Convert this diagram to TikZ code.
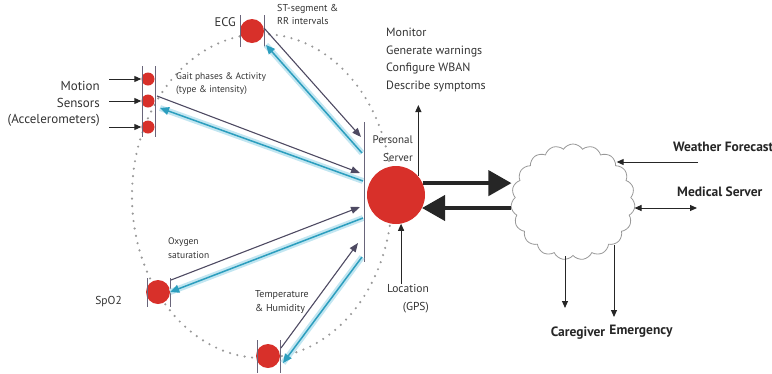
\documentclass[tikz,border=0pt]{standalone}
\usepackage{fontspec}
\setmainfont{PT Sans}
\usepackage{xcolor}
\usetikzlibrary{shapes.symbols,arrows.meta,positioning}

\definecolor{sensorred}{HTML}{D8302A}
\definecolor{uplink}{HTML}{4E4A62}
\definecolor{downlink}{HTML}{2C9EBE}
\definecolor{glow}{HTML}{C2E6F1}
\definecolor{ink}{HTML}{262626}
\definecolor{txt}{HTML}{333333}

\begin{document}
\begin{tikzpicture}[
    x=1pt, y=-1pt,
    sensor/.style={circle, fill=sensorred, minimum size=24pt, inner sep=0pt},
    accdot/.style={circle, fill=sensorred, minimum size=13pt, inner sep=0pt},
    server/.style={circle, fill=sensorred, minimum size=58pt, inner sep=0pt},
    bar/.style={draw=uplink!85, line width=1pt},
    ring/.style={draw=gray!80, line width=2.4pt, line cap=round, dash pattern=on 0pt off 7.5pt},
    up/.style={draw=uplink, line width=1.1pt, -{Triangle[length=9pt,width=7pt]}},
    down/.style={draw=downlink, line width=1.5pt, -{Triangle[length=9pt,width=8pt]},
        preaction={draw=glow, line width=6pt, -}},
    feed/.style={draw=ink, line width=1pt, -{Triangle[length=7pt,width=6pt]}},
    link/.style={draw=ink, line width=4pt, -{Triangle[length=23pt,width=25pt]}},
    lbl/.style={text=txt, font=\fontsize{12}{17.5}\selectfont, inner sep=0pt},
    small/.style={text=txt, font=\fontsize{9.5}{14}\selectfont, inner sep=0pt, align=left},
    bold/.style={text=ink, font=\fontsize{13.5}{16}\selectfont\bfseries, inner sep=0pt}
]
\useasboundingbox (0,0) rectangle (772,373);

% body area
\draw[ring] (262,196) ellipse [x radius=130, y radius=162];

% sensors
\node[sensor] (ecg) at (252,31) {};
\node[accdot] (acc1) at (148,79) {};
\node[accdot] (acc2) at (148,101) {};
\node[accdot] (acc3) at (148,127) {};
\node[sensor] (spo) at (158,292) {};
\node[sensor] (temp) at (268,356) {};
\node[server] (ps) at (396,195) {};
\node[cloud, cloud puffs=19, cloud puff arc=115, cloud ignores aspect,
      minimum width=124pt, minimum height=116pt, inner sep=0pt,
      draw=gray!80, line width=0.8pt, fill=white] (net) at (573,202) {};

% bars around the sensors
\draw[bar] (240,15) -- (240,47) (264,15) -- (264,47);
\draw[bar] (142,66) -- (142,137) (155,66) -- (155,137);
\draw[bar] (147,278) -- (147,307) (170,278) -- (170,307);
\draw[bar] (257,340) -- (257,373) (280,340) -- (280,373);
\draw[bar] (364,122) -- (364,262);

% ends on the server bar
\coordinate (ecgin) at (361,137);
\coordinate (ecgout) at (362,153);
\coordinate (accin) at (360,173);
\coordinate (accout) at (363,181);
\coordinate (spoin) at (360,207);
\coordinate (spoout) at (363,218);
\coordinate (tempin) at (358,243);
\coordinate (tempout) at (362,257);

\draw[down] (ecgout) -- ([shift={(14,14)}]ecg.center);
\draw[down] (accout) -- ([xshift=12pt, yshift=-7pt]acc2.center);
\draw[down] (spoout) -- (spo.east);
\draw[down] (tempout) -- ([shift={(15,7)}]temp.center);

\draw[up] ([shift={(12,-3)}]ecg.center) -- (ecgin);
\draw[up] ([xshift=9pt, yshift=5pt]acc2.center) -- (accin);
\draw[up] ([shift={(13,-12)}]spo.center) -- (spoin);
\draw[up] ([shift={(13,-8)}]temp.center) -- (tempin);

% motion inputs
\draw[feed] (acc1.west) ++(-32,0) -- (acc1.west);
\draw[feed] (acc2.west) ++(-32,0) -- (acc2.west);
\draw[feed] (acc3.west) ++(-32,0) -- (acc3.west);

% labels
\node[lbl, anchor=east, font=\fontsize{12.5}{15}\selectfont] (ecglbl) at (236,22) {ECG};
\node[small, anchor=north west, font=\fontsize{10}{13}\selectfont] (stlbl) at (277,4) {ST-segment \&\\RR intervals};
\node[lbl, align=right, anchor=east, font=\fontsize{13}{16.5}\selectfont] (motion) at (100,104) {Motion\\Sensors\\(Accelerometers)};
\node[small, anchor=north west, font=\fontsize{9.5}{13}\selectfont] (gait) at (176,73) {Gait phases \& Activity\\(type \& intensity)};
\node[small, anchor=north west] (oxy) at (168,238) {Oxygen\\saturation};
\node[lbl, anchor=east, font=\fontsize{11.5}{14}\selectfont] (spolbl) at (122,302) {SpO2};
\node[small, anchor=north west, font=\fontsize{10}{14}\selectfont] (th) at (255,290) {Temperature\\\& Humidity};
\node[lbl, align=right, anchor=south east, font=\fontsize{11}{18}\selectfont] (pslbl) at (413,162) {Personal\\Server};
\node[lbl, align=left, anchor=north west] (tasks) at (386,28)
    {Monitor\\Generate warnings\\Configure WBAN\\Describe symptoms};
\node[lbl, align=right, anchor=north east, font=\fontsize{11.5}{18}\selectfont] (gps) at (429,284) {Location\\(GPS)};

% server links
\coordinate (mon) at (418,105);
\draw[feed] (ps.40) -- (ps.40 |- mon);
\draw[feed] (ps.-80 |- gps.north) -- (ps.-80);
\draw[link] (ps.24) -- (ps.24 -| net.west);
\draw[link] ([yshift=-6pt]net.west) -- ([yshift=-6pt]net.west -| ps.-27);

% outside world
\node[bold, anchor=west] (wf) at (673,147) {Weather Forecast};
\node[bold, anchor=west] (ms) at (677,192) {Medical Server};
\node[bold] (cg) at (578,333) {Caregiver};
\node[bold] (em) at (641,331) {Emergency};

\coordinate (wfsrc) at (698,162);
\coordinate (msend) at (697,208);
\coordinate (cgtip) at (565,308);
\coordinate (emtip) at (614,317);
\draw[feed] (wfsrc) -- (wfsrc -| net.40);
\draw[feed, {Triangle[length=7pt,width=6pt]}-{Triangle[length=7pt,width=6pt]}] (msend -| net.east) -- (msend);
\draw[feed] (cgtip |- net.south) -- (cgtip);
\draw[feed] (emtip |- net.-50) -- (emtip);
\end{tikzpicture}
\end{document}
